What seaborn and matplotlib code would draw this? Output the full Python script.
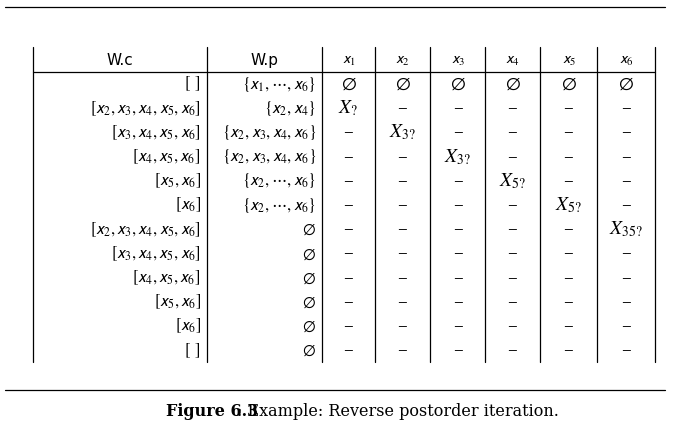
import matplotlib.pyplot as plt
import seaborn as sns

sns.set_style("white")
plt.rcParams['mathtext.fontset'] = 'stix'
plt.rcParams['text.color'] = 'black'

# table contents
W_C = ["[x_2,x_3,x_4,x_5,x_6]", "[x_3,x_4,x_5,x_6]", "[x_4,x_5,x_6]", "[x_5,x_6]", "[x_6]"]
wc_col = ["[\\;\\,]"] + W_C + W_C + ["[\\;\\,]"]
wp_col = ["\\{x_1,\\cdots,x_6\\}", "\\{x_2,x_4\\}", "\\{x_2,x_3,x_4,x_6\\}",
          "\\{x_2,x_3,x_4,x_6\\}", "\\{x_2,\\cdots,x_6\\}", "\\{x_2,\\cdots,x_6\\}"] + ["\\emptyset"] * 6
marks = {1: "X_?", 2: "X_{3?}", 3: "X_{3?}", 4: "X_{5?}", 5: "X_{5?}", 6: "X_{35?}"}
headers = ["W.c", "W.p", "x_1", "x_2", "x_3", "x_4", "x_5", "x_6"]


def sf(s):
    # sans-serif x's like the original
    return "$" + s.replace("x_", "\\mathsf{x}_") + "$"


fig = plt.figure(figsize=(6.89, 4.37), dpi=100)
ax = fig.add_axes([0, 0, 1, 1])
ax.set_xlim(0, 689)
ax.set_ylim(437, 0)
ax.axis('off')

col_edges = [33, 207, 322, 375, 430, 485, 540, 597, 655]
top, head_bot, row_h = 47, 72, 24.2
n_rows = len(wc_col)
bottom = head_bot + row_h * n_rows

ax.plot([5, 665], [7, 7], color='black', lw=0.9)
ax.plot([5, 665], [390, 390], color='black', lw=0.9)
ax.plot([col_edges[0], col_edges[-1]], [head_bot, head_bot], color='black', lw=0.9)
for x in col_edges:
    ax.plot([x, x], [top, bottom], color='black', lw=0.9)

fs = 12
hy = (top + head_bot) / 2 + 1
for i, h in enumerate(headers):
    cx = (col_edges[i] + col_edges[i + 1]) / 2
    txt = h if i < 2 else sf(h)
    ax.text(cx, hy, txt, ha='center', va='center', fontsize=11, family='DejaVu Sans')

for r in range(n_rows):
    cy = head_bot + row_h * (r + 0.5)
    ax.text(col_edges[1] - 6, cy, sf(wc_col[r]), ha='right', va='center', fontsize=fs)
    ax.text(col_edges[2] - 6, cy, sf(wp_col[r]), ha='right', va='center', fontsize=fs)
    for c in range(6):
        cx = (col_edges[c + 2] + col_edges[c + 3]) / 2
        if r == 0:
            s = "$\\emptyset$"
        elif r == c + 1:
            s = "$" + marks[r] + "$"
        else:
            s = "\u2013"
        ax.text(cx, cy, s, ha='center', va='center', fontsize=fs + 2, family='DejaVu Serif')

ax.text(166, 411, "Figure 6.3", ha='left', va='center', fontsize=11.5,
        family='DejaVu Serif', fontweight='bold')
ax.text(237, 411, ": Example: Reverse postorder iteration.", ha='left', va='center',
        fontsize=11.5, family='DejaVu Serif')

fig.savefig("out.png", dpi=100)
